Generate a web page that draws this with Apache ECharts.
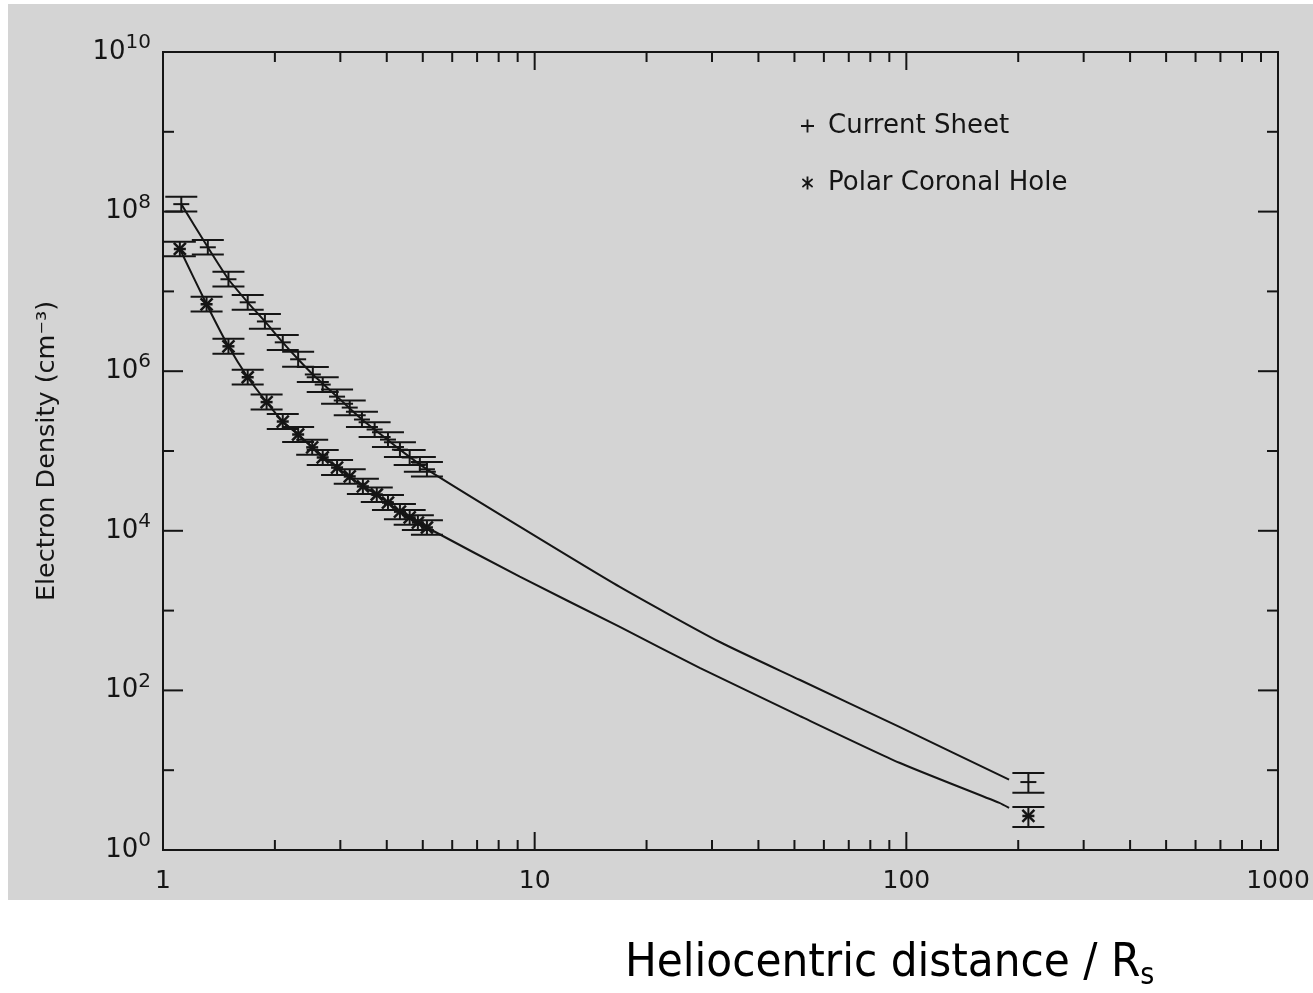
<!DOCTYPE html>
<html>
<head>
<meta charset="utf-8">
<script src="https://cdn.jsdelivr.net/npm/echarts@6/dist/echarts.min.js"></script>
<style>
html,body{margin:0;padding:0;background:#fff;}
#main{width:1313px;height:993px;}
</style>
</head>
<body>
<div id="main"></div>
<script>
// ---- data ----
// Current Sheet measurements (heliocentric distance in Rs, density cm^-3, error bar low/high)
const csX  = [1.12, 1.32, 1.50, 1.69, 1.88, 2.10, 2.31, 2.53, 2.69, 2.94, 3.18, 3.43, 3.71, 4.03, 4.34, 4.61, 4.91, 5.13, 213];
const csY  = [1.24e8, 3.57e7, 1.42e7, 7.3e6, 4.2e6, 2.3e6, 1.41e6, 9.1e5, 6.8e5, 4.8e5, 3.5e5, 2.48e5, 1.86e5, 1.39e5, 1.04e5, 8.3e4, 6.8e4, 5.9e4, 7.1];
const csLo = [1.0e8, 2.9e7, 1.15e7, 5.9e6, 3.4e6, 1.85e6, 1.14e6, 7.3e5, 5.5e5, 3.9e5, 2.8e5, 2.0e5, 1.5e5, 1.12e5, 8.4e4, 6.7e4, 5.5e4, 4.8e4, 5.2];
const csHi = [1.54e8, 4.4e7, 1.76e7, 9.0e6, 5.2e6, 2.85e6, 1.75e6, 1.13e6, 8.4e5, 5.9e5, 4.3e5, 3.1e5, 2.3e5, 1.72e5, 1.29e5, 1.03e5, 8.4e4, 7.3e4, 9.2];
// Polar Coronal Hole measurements
const pchX  = [1.11, 1.31, 1.50, 1.69, 1.90, 2.10, 2.31, 2.52, 2.69, 2.94, 3.18, 3.45, 3.76, 4.03, 4.34, 4.61, 4.85, 5.13, 213];
const pchY  = [3.4e7, 6.9e6, 2.05e6, 8.4e5, 4.1e5, 2.34e5, 1.61e5, 1.11e5, 8.3e4, 6.2e4, 4.8e4, 3.6e4, 2.85e4, 2.26e4, 1.74e4, 1.47e4, 1.27e4, 1.10e4, 2.67];
const pchLo = [2.75e7, 5.6e6, 1.65e6, 6.8e5, 3.3e5, 1.89e5, 1.3e5, 9.0e4, 6.7e4, 5.0e4, 3.9e4, 2.9e4, 2.3e4, 1.82e4, 1.4e4, 1.19e4, 1.02e4, 8.9e3, 1.94];
const pchHi = [4.2e7, 8.6e6, 2.55e6, 1.04e6, 5.1e5, 2.9e5, 2.0e5, 1.38e5, 1.03e5, 7.7e4, 5.9e4, 4.5e4, 3.5e4, 2.8e4, 2.16e4, 1.82e4, 1.57e4, 1.36e4, 3.46];
// model curves
const csModelX  = [1.12, 1.32, 1.50, 1.69, 1.88, 2.10, 2.31, 2.53, 2.94, 3.43, 3.71, 4.34, 5.13, 9.12, 16.9, 31.4, 51.6, 95.8, 189];
const csModelY  = [1.24e8, 3.57e7, 1.42e7, 7.3e6, 4.2e6, 2.3e6, 1.41e6, 9.1e5, 4.8e5, 2.48e5, 1.86e5, 1.04e5, 5.9e4, 1.13e4, 2.0e3, 407, 136, 34.9, 7.6];
const pchModelX = [1.11, 1.31, 1.50, 1.69, 1.90, 2.10, 2.31, 2.52, 2.94, 3.45, 3.76, 4.34, 5.13, 9.12, 16.9, 27.8, 51.6, 95.8, 178, 189];
const pchModelY = [3.4e7, 6.9e6, 2.05e6, 8.4e5, 4.1e5, 2.34e5, 1.61e5, 1.11e5, 6.2e4, 3.6e4, 2.85e4, 1.74e4, 1.10e4, 2.66e3, 628, 192, 48, 12.4, 3.89, 3.37];
// axis ticks
const xMajorTicks = [10, 100];
const xMinorTicks = [2,3,4,5,6,7,8,9, 20,30,40,50,60,70,80,90, 200,300,400,500,600,700,800,900];
const yMajorTicks = [1e2, 1e4, 1e6, 1e8];
const yMinorTicks = [1e1, 1e3, 1e5, 1e7, 1e9];
const xTickLabels = {1:'1', 10:'10', 100:'100', 1000:'1000'};

const INK = '#151515';
const FONT = "'DejaVu Sans', sans-serif";
const TITLE_FONT = "'DejaVu Sans Condensed', 'DejaVu Sans', sans-serif";

const chart = echarts.init(document.getElementById('main'), null, {renderer:'canvas'});

function errRender(kind) {
  return function (params, api) {
    const x = api.value(0), y = api.value(1), lo = api.value(2), hi = api.value(3);
    const c = api.coord([x, y]);
    const pl = api.coord([x, lo]);
    const ph = api.coord([x, hi]);
    const cap = 16, arm = 8, st = {stroke: INK, lineWidth: 2};
    const ch = [
      {type:'line', shape:{x1:c[0], y1:pl[1], x2:c[0], y2:ph[1]}, style:st},
      {type:'line', shape:{x1:c[0]-cap, y1:pl[1], x2:c[0]+cap, y2:pl[1]}, style:st},
      {type:'line', shape:{x1:c[0]-cap, y1:ph[1], x2:c[0]+cap, y2:ph[1]}, style:st}
    ];
    if (kind === 'plus') {
      ch.push({type:'line', shape:{x1:c[0]-arm, y1:c[1], x2:c[0]+arm, y2:c[1]}, style:st});
    } else {
      const a = 6;
      ch.push({type:'line', shape:{x1:c[0]-a, y1:c[1]-a, x2:c[0]+a, y2:c[1]+a}, style:{stroke:INK, lineWidth:2.5}});
      ch.push({type:'line', shape:{x1:c[0]-a, y1:c[1]+a, x2:c[0]+a, y2:c[1]-a}, style:{stroke:INK, lineWidth:2.5}});
      ch.push({type:'line', shape:{x1:c[0]-a, y1:c[1], x2:c[0]+a, y2:c[1]}, style:{stroke:INK, lineWidth:2.5}});
    }
    return {type:'group', children: ch};
  };
}

function xTickRender(len) {
  return function (params, api) {
    const p = api.coord([api.value(0), 1]);
    const cs = params.coordSys;
    const st = {stroke: INK, lineWidth: 2};
    return {type:'group', children:[
      {type:'line', shape:{x1:p[0], y1:cs.y + cs.height, x2:p[0], y2:cs.y + cs.height - len}, style:st},
      {type:'line', shape:{x1:p[0], y1:cs.y, x2:p[0], y2:cs.y + len}, style:st}
    ]};
  };
}
function yTickRender(len) {
  return function (params, api) {
    const p = api.coord([1, api.value(1)]);
    const cs = params.coordSys;
    const st = {stroke: INK, lineWidth: 2};
    return {type:'group', children:[
      {type:'line', shape:{x1:cs.x, y1:p[1], x2:cs.x + len, y2:p[1]}, style:st},
      {type:'line', shape:{x1:cs.x + cs.width, y1:p[1], x2:cs.x + cs.width - len, y2:p[1]}, style:st}
    ]};
  };
}

const option = {
  backgroundColor: '#ffffff',
  animation: false,
  graphic: [
    {type:'rect', z:-100, silent:true, shape:{x:8, y:4, width:1305, height:896}, style:{fill:'#d4d4d4'}}
  ],
  title: {
    text: '{a|Heliocentric distance / R}{s|s}',
    left: 620, top: 932,
    textStyle: {
      fontWeight: 'normal',
      rich: {
        a: {fontFamily: TITLE_FONT, fontSize: 47, fontWeight: 'normal', color: '#000'},
        s: {fontFamily: TITLE_FONT, fontSize: 30, fontWeight: 'normal', color: '#000', padding:[24,0,0,0]}
      }
    }
  },
  legend: {
    orient: 'vertical',
    left: 796, top: 108,
    itemGap: 31,
    itemWidth: 13, itemHeight: 13,
    data: [
      {name:'Current Sheet', icon:'path://M6,0H8V6H14V8H8V14H6V8H0V6H6Z'},
      {name:'Polar Coronal Hole', icon:'path://M6,0H8V5L12,2L13,3.5L8.8,7L13,10.5L12,12L8,9V14H6V9L2,12L1,10.5L5.2,7L1,3.5L2,2L6,5Z'}
    ],
    textStyle: {fontFamily: FONT, fontSize: 26, color: INK, padding:[0,0,0,9]},
    selectedMode: false
  },
  grid: {
    left: 163, top: 52, width: 1115, height: 798,
    show: true, borderColor: INK, borderWidth: 2, backgroundColor: 'transparent'
  },
  xAxis: {
    type: 'log', logBase: 10, min: 1, max: 1000,
    axisLine: {show: true, lineStyle: {color: INK, width: 2}},
    axisTick: {show: false},
    splitLine: {show: false},
    axisLabel: {
      margin: 19, fontFamily: FONT, fontSize: 25, color: INK,
      formatter: function (v) { const k = Math.round(v); return xTickLabels[k] !== undefined ? xTickLabels[k] : ''; }
    }
  },
  yAxis: {
    type: 'log', logBase: 10, min: 1, max: 1e10, interval: 1,
    name: 'Electron Density (cm⁻³)',
    nameLocation: 'middle', nameGap: 103, nameRotate: 90,
    nameTextStyle: {fontFamily: FONT, fontSize: 25.5, color: INK},
    axisLine: {show: true, lineStyle: {color: INK, width: 2}},
    axisTick: {show: false},
    splitLine: {show: false},
    axisLabel: {
      margin: 12, color: INK,
      formatter: function (v) {
        const e = Math.round(Math.log10(v));
        if (e % 2 !== 0) return '';
        return '{b|10}{s|' + e + '}';
      },
      rich: {
        b: {fontFamily: FONT, fontSize: 26, color: INK},
        s: {fontFamily: FONT, fontSize: 20, color: INK, padding: [0, 0, 18, 0]}
      }
    }
  },
  series: [
    {type:'line', name:'Current Sheet model', data: csModelX.map((x,i)=>[x, csModelY[i]]), showSymbol:false, smooth:0.2, lineStyle:{color:INK, width:2}, z:3, silent:true},
    {type:'line', name:'Polar Coronal Hole model', data: pchModelX.map((x,i)=>[x, pchModelY[i]]), showSymbol:false, smooth:0.2, lineStyle:{color:INK, width:2}, z:3, silent:true},
    {type:'custom', name:'Current Sheet', renderItem: errRender('plus'), itemStyle:{color:INK},
      data: csX.map((x,i)=>[x, csY[i], csLo[i], csHi[i]]), encode:{x:0, y:1}, z:4},
    {type:'custom', name:'Polar Coronal Hole', renderItem: errRender('star'), itemStyle:{color:INK},
      data: pchX.map((x,i)=>[x, pchY[i], pchLo[i], pchHi[i]]), encode:{x:0, y:1}, z:4},
    {type:'custom', name:'xMajor', renderItem: xTickRender(18), data: xMajorTicks.map(v=>[v, 1]), encode:{x:0,y:1}, silent:true},
    {type:'custom', name:'xMinor', renderItem: xTickRender(10), data: xMinorTicks.map(v=>[v, 1]), encode:{x:0,y:1}, silent:true},
    {type:'custom', name:'yMajor', renderItem: yTickRender(20), data: yMajorTicks.map(v=>[1, v]), encode:{x:0,y:1}, silent:true},
    {type:'custom', name:'yMinor', renderItem: yTickRender(11), data: yMinorTicks.map(v=>[1, v]), encode:{x:0,y:1}, silent:true}
  ]
};
chart.setOption(option);
</script>
</body>
</html>
